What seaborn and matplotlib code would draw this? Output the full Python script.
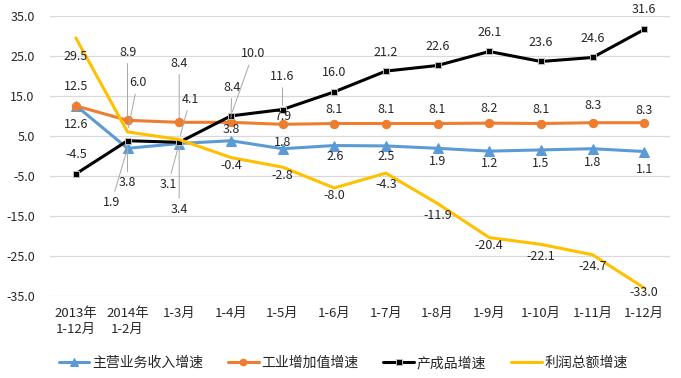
import matplotlib
matplotlib.use('Agg')
import matplotlib.pyplot as plt
import seaborn as sns
import pandas as pd

# data
categories = ["2013年\n1-12月", "2014年\n1-2月", "1-3月", "1-4月", "1-5月", "1-6月",
              "1-7月", "1-8月", "1-9月", "1-10月", "1-11月", "1-12月"]
revenue = [12.6, 1.9, 3.1, 3.8, 1.8, 2.6, 2.5, 1.9, 1.2, 1.5, 1.8, 1.1]
value_added = [12.5, 8.9, 8.4, 8.4, 7.9, 8.1, 8.1, 8.1, 8.2, 8.1, 8.3, 8.3]
inventory = [-4.5, 3.8, 3.4, 10.0, 11.6, 16.0, 21.2, 22.6, 26.1, 23.6, 24.6, 31.6]
profit = [29.5, 6.0, 4.1, -0.4, -2.8, -8.0, -4.3, -11.9, -20.4, -22.1, -24.7, -33.0]
series_names = ["主营业务收入增速", "工业增加值增速", "产成品增速", "利润总额增速"]
yticks = [-35, -25, -15, -5, 5, 15, 25, 35]

df = pd.DataFrame({
    "月份": categories,
    series_names[0]: revenue,
    series_names[1]: value_added,
    series_names[2]: inventory,
    series_names[3]: profit,
})

# label offsets in pixels (dx, dy down), and which ones get a leader line
offsets = {
    series_names[0]: [(0, 19), (-16, 54), (-11, 41), (0, -11), (0, -6), (1, 11),
                      (0, 11), (0, 13), (0, 12), (0, 14), (0, 14), (0, 18)],
    series_names[1]: [(0, -19), (0, -68), (0, -59), (1, -35), (0, -8), (0, -14),
                      (0, -14), (0, -14), (0, -15), (0, -14), (0, -17), (0, -12)],
    series_names[2]: [(0, -19), (0, 42), (0, 67), (22, -62), (0, -33), (0, -19),
                      (0, -19), (0, -19), (0, -19), (0, -19), (0, -19), (0, -20)],
    series_names[3]: [(0, 19), (10, -49), (11, -40), (0, 8), (0, 8), (0, 8),
                      (0, 11), (0, 12), (0, 8), (0, 12), (0, 12), (0, 5)],
}
leaders = {
    series_names[0]: [1, 2],
    series_names[1]: [1, 2, 3],
    series_names[2]: [1, 2, 3, 4],
    series_names[3]: [1, 2],
}
styles = {
    series_names[0]: dict(color="#5B9BD5", marker="^", markersize=6.5, markeredgecolor="#5B9BD5"),
    series_names[1]: dict(color="#ED7D31", marker="o", markersize=6, markeredgecolor="#ED7D31"),
    series_names[2]: dict(color="#000000", marker="s", markersize=5, markeredgecolor="#bfbfbf",
                          markeredgewidth=0.7),
    series_names[3]: dict(color="#FFC000"),
}

sns.set_theme(style="white")
plt.rcParams['font.family'] = ['Noto Sans CJK SC', 'DejaVu Sans']
plt.rcParams['axes.unicode_minus'] = False

fig = plt.figure(figsize=(6.81, 3.78), dpi=100)
ax = fig.add_axes([0.0734, 0.217, 0.9106, 0.741])

for name in series_names:
    sns.lineplot(data=df, x="月份", y=name, ax=ax, sort=False, linewidth=2.2,
                 label=name, **styles[name])

text_color = "#262626"
for name in series_names:
    for i, v in enumerate(df[name]):
        dx, dy = offsets[name][i]
        arrow = None
        if i in leaders[name]:
            arrow = dict(arrowstyle="-", color="#a6a6a6", lw=0.7, shrinkA=1, shrinkB=3)
        ax.annotate(f"{v:.1f}", xy=(categories[i], v), xytext=(dx, -dy),
                    textcoords="offset pixels", ha="center", va="center",
                    fontsize=9, color=text_color, arrowprops=arrow)

ax.set_ylim(-35, 35)
ax.set_xlim(-0.5, len(categories) - 0.5)
ax.set_yticks(yticks)
ax.set_yticklabels([f"{t:.1f}" for t in yticks])
ax.yaxis.grid(True, color="#d9d9d9", linewidth=0.9)
ax.xaxis.grid(False)
for s in ax.spines.values():
    s.set_visible(False)
ax.set_xlabel("")
ax.set_ylabel("")
ax.tick_params(axis="y", length=0, pad=11, labelsize=9, labelcolor=text_color)
ax.tick_params(axis="x", length=0, pad=8, labelsize=9.5, labelcolor=text_color)
for lab in ax.get_xticklabels():
    lab.set_linespacing(1.3)

handles, labels = ax.get_legend_handles_labels()
ax.legend(handles, labels, ncol=4, loc="center", bbox_to_anchor=(0.504, 0.04),
          bbox_transform=fig.transFigure, frameon=False, fontsize=10,
          handlelength=2.2, handletextpad=0.2, columnspacing=1.8, markerscale=0.8)

fig.savefig("out.png", dpi=100)
